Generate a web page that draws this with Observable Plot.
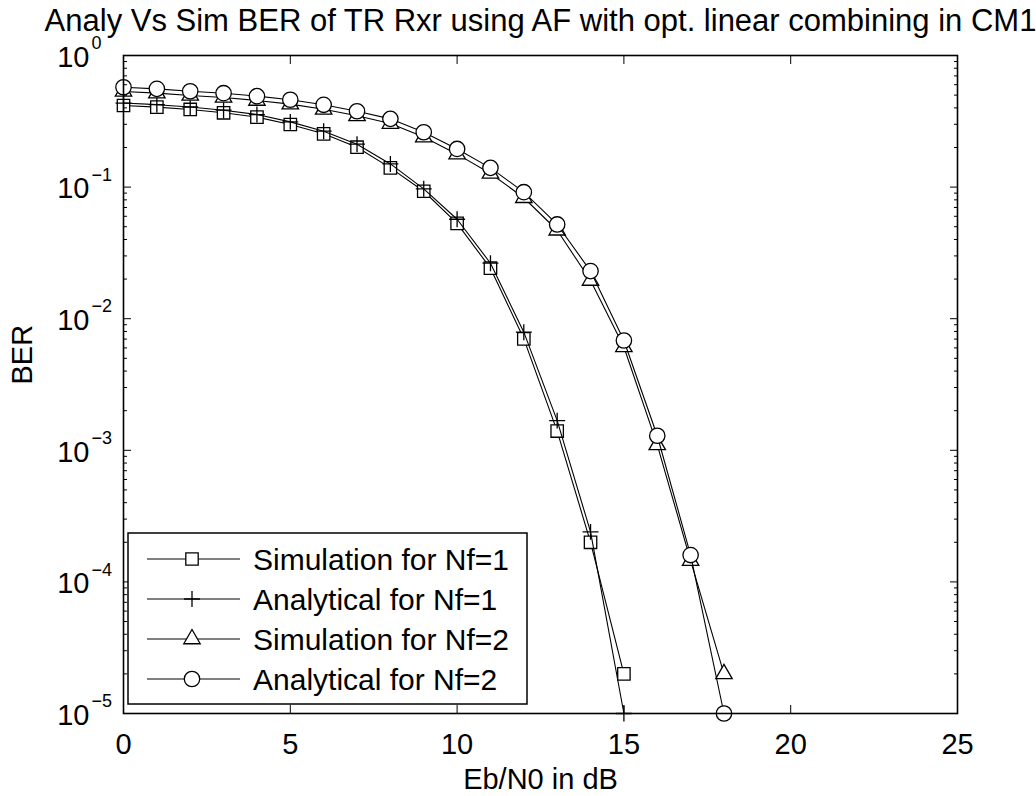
<!DOCTYPE html>
<html>
<head>
<meta charset="utf-8">
<script src="https://cdn.jsdelivr.net/npm/d3@7"></script>
<script src="https://cdn.jsdelivr.net/npm/@observablehq/plot@0.6"></script>
<style>
  html, body { margin: 0; padding: 0; background: #fff; }
  #chart { position: relative; width: 1036px; height: 796px;
           font-family: "Liberation Sans", Arial, Helvetica, sans-serif; }
  #chart svg { position: absolute; left: 0; top: 0; }
</style>
</head>
<body>
<div id="chart"></div>
<script>
// Eb/N0 (dB) sample points
const snrNf1 = [0, 1, 2, 3, 4, 5, 6, 7, 8, 9, 10, 11, 12, 13, 14, 15];
const snrNf2 = [0, 1, 2, 3, 4, 5, 6, 7, 8, 9, 10, 11, 12, 13, 14, 15, 16, 17, 18];

// BER values
const simNf1 = [0.417, 0.405, 0.389, 0.367, 0.340, 0.299, 0.254, 0.201, 0.140, 0.093,
                0.053, 0.0242, 0.00703, 0.0014, 2.0e-4, 2.0e-5];
const anaNf1 = [0.435, 0.423, 0.406, 0.384, 0.356, 0.313, 0.266, 0.212, 0.150, 0.097,
                0.057, 0.0264, 0.0079, 0.00168, 2.4e-4, 1.0e-5];
const simNf2 = [0.533, 0.518, 0.497, 0.480, 0.455, 0.427, 0.390, 0.348, 0.304, 0.240,
                0.178, 0.127, 0.083, 0.047, 0.0195, 0.0061, 0.0011, 1.45e-4, 2.0e-5];
const anaNf2 = [0.574, 0.558, 0.535, 0.517, 0.491, 0.461, 0.422, 0.377, 0.330, 0.261,
                0.195, 0.140, 0.0915, 0.052, 0.023, 0.00683, 0.00129, 1.6e-4, 1.0e-5];

// Series names, in drawing order
const seriesNames = ["Simulation for Nf=1", "Analytical for Nf=1",
                     "Simulation for Nf=2", "Analytical for Nf=2"];
const seriesSymbols = ["square", "plus", "triangle", "circle"];

// Axis ticks
const xTicks = [0, 5, 10, 15, 20, 25];
const yDecades = [1e-5, 1e-4, 1e-3, 1e-2, 1e-1, 1];
const yExponents = ["\u22125", "\u22124", "\u22123", "\u22122", "\u22121", "0"];
const yMinor = [2,3,4,5,6,7,8,9].flatMap(m => [1e-5, 1e-4, 1e-3, 1e-2, 1e-1].map(d => m * d));

const titleText = "Analy Vs Sim BER of TR Rxr using AF with opt. linear combining in CM1";
const xLabel = "Eb/N0 in dB";
const yLabel = "BER";

// marker radius per symbol (Plot's symbol area = πr²)
const symbolRadius = {square: 7.0, plus: 5.2, triangle: 6.1, circle: 7.7};

const seriesX = [snrNf1, snrNf1, snrNf2, snrNf2];
const seriesY = [simNf1, anaNf1, simNf2, anaNf2];
const series = seriesNames.map((name, i) => ({
  name, symbol: seriesSymbols[i],
  data: seriesX[i].map((x, j) => ({x, y: seriesY[i][j]}))
}));

const FONT = "Liberation Sans, Arial, Helvetica, sans-serif";

const dataMarks = series.flatMap(s => [
  Plot.line(s.data, {x: "x", y: "y", stroke: "black", strokeWidth: 1.1}),
  Plot.dot(s.data, {x: "x", y: "y", symbol: s.symbol, r: symbolRadius[s.symbol],
                    stroke: "black", strokeWidth: 1.3,
                    fill: s.symbol === "plus" ? "none" : "white"})
]);

const yLabelRows = yDecades.map((v, i) => ({v, exp: yExponents[i]}));

const chart = Plot.plot({
  width: 1036,
  height: 796,
  marginTop: 55,
  marginBottom: 83,
  marginLeft: 123,
  marginRight: 79,
  style: {fontFamily: FONT, background: "white", color: "black"},
  x: {domain: [0, 25]},
  y: {type: "log", domain: [1e-5, 1]},
  marks: [
    ...dataMarks,
    Plot.frame({stroke: "black", strokeWidth: 1.6}),
    // inward ticks on all four sides
    Plot.axisX({anchor: "bottom", ticks: xTicks, tickSize: -8, fill: "none", label: null}),
    Plot.axisX({anchor: "top", ticks: xTicks, tickSize: -8, fill: "none", label: null}),
    Plot.axisY({anchor: "left", ticks: yDecades, tickSize: -8, fill: "none", label: null}),
    Plot.axisY({anchor: "right", ticks: yDecades, tickSize: -8, fill: "none", label: null}),
    Plot.axisY({anchor: "left", ticks: yMinor, tickSize: -4, fill: "none", label: null}),
    Plot.axisY({anchor: "right", ticks: yMinor, tickSize: -4, fill: "none", label: null}),
    // x tick labels
    Plot.axisX({anchor: "bottom", ticks: xTicks, tickSize: 0, tickPadding: 20,
                fontSize: 29, label: null}),
    // y tick labels: 10 with a raised exponent
    Plot.text(yLabelRows, {y: "v", frameAnchor: "left", text: () => "10",
                           textAnchor: "end", dx: -34, dy: 2, fontSize: 29}),
    Plot.text(yLabelRows, {y: "v", frameAnchor: "left", text: "exp",
                           textAnchor: "start", dx: -32, dy: -12, fontSize: 18}),
    // title and axis labels
    Plot.text([titleText], {frameAnchor: "top", dy: -46.5, fontSize: 31}),
    Plot.text([xLabel], {frameAnchor: "bottom", dy: 75, fontSize: 29}),
    Plot.text([yLabel], {frameAnchor: "left", dx: -100.5, rotate: -90, fontSize: 29})
  ]
});

const root = document.getElementById("chart");
root.appendChild(chart);

// legend box drawn over the axes
const legendBox = {x: 128, y: 533, w: 399, h: 171};
const rowY0 = 559, rowStep = 40;
const symbolTypes = {square: d3.symbolSquare, plus: d3.symbolPlus,
                     triangle: d3.symbolTriangle, circle: d3.symbolCircle};

const legend = d3.create("svg")
  .attr("width", 1036).attr("height", 796)
  .style("pointer-events", "none");

legend.append("rect")
  .attr("x", legendBox.x).attr("y", legendBox.y)
  .attr("width", legendBox.w).attr("height", legendBox.h)
  .attr("fill", "white").attr("stroke", "black").attr("stroke-width", 1.5);

series.forEach((s, i) => {
  const y = rowY0 + i * rowStep;
  const g = legend.append("g");
  g.append("line").attr("x1", 147).attr("x2", 240).attr("y1", y).attr("y2", y)
    .attr("stroke", "black").attr("stroke-width", 1.1);
  const r = symbolRadius[s.symbol];
  g.append("path")
    .attr("transform", `translate(192,${y})`)
    .attr("d", d3.symbol().type(symbolTypes[s.symbol]).size(Math.PI * r * r)())
    .attr("fill", s.symbol === "plus" ? "none" : "white")
    .attr("stroke", "black").attr("stroke-width", 1.3);
  g.append("text").attr("x", 253).attr("y", y + 11)
    .attr("font-family", FONT).attr("font-size", 30)
    .text(s.name);
});

root.appendChild(legend.node());
</script>
</body>
</html>
